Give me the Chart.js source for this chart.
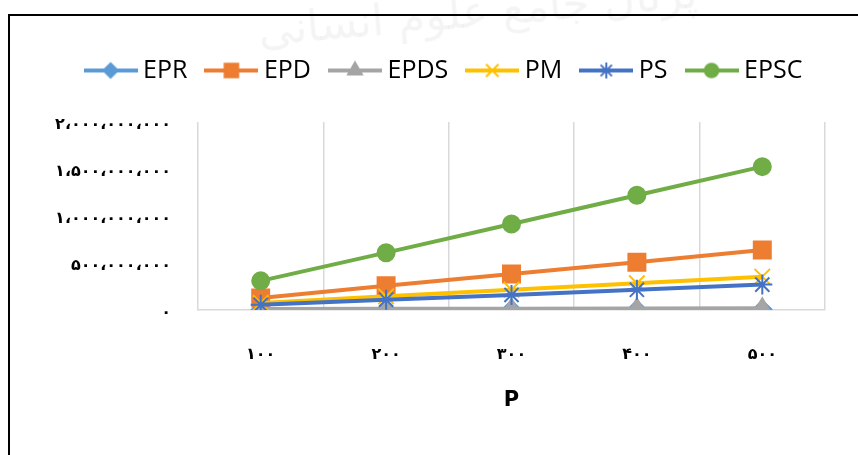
<!DOCTYPE html>
<html>
<head>
<meta charset="utf-8">
<script src="https://cdn.jsdelivr.net/npm/chart.js@4.4.0/dist/chart.umd.min.js"></script>
<style>
    html, body { margin: 0; padding: 0; background: #fff; overflow: hidden; }
    #frame {
        position: absolute; left: 8px; top: 14px; width: 900px; height: 500px;
        border-left: 2px solid #000; border-top: 2px solid #000;
    }
    #chart { position: absolute; left: 0; top: 0; }
    #wm {
        position: absolute; left: 200px; top: -12px; width: 500px; height: 100px;
        font: 44px "DejaVu Sans"; color: rgba(0, 0, 0, 0.045);
        transform: rotate(-5deg); white-space: nowrap; direction: rtl;
    }
</style>
</head>
<body>
<div id="frame"></div>
<canvas id="chart" width="858" height="455"></canvas>
<div id="wm">پرتال جامع علوم انسانی</div>
<script>
const categories = ['۱۰۰', '۲۰۰', '۳۰۰', '۴۰۰', '۵۰۰'];
const seriesNames = ['EPR', 'EPD', 'EPDS', 'PM', 'PS', 'EPSC'];

const eprValues  = [3000000, 4000000, 5000000, 6000000, 7000000];
const epdValues  = [128000000, 258000000, 383000000, 508000000, 638000000];
const epdsValues = [10000000, 12000000, 14000000, 16000000, 18000000];
const pmValues   = [75000000, 145000000, 215000000, 285000000, 355000000];
const psValues   = [55000000, 110000000, 160000000, 215000000, 270000000];
const epscValues = [310000000, 610000000, 915000000, 1220000000, 1525000000];

const yTickValues = [0, 500000000, 1000000000, 1500000000, 2000000000];
const yTickLabels = ['۰', '۵۰۰،۰۰۰،۰۰۰', '۱،۰۰۰،۰۰۰،۰۰۰', '۱،۵۰۰،۰۰۰،۰۰۰', '۲،۰۰۰،۰۰۰،۰۰۰'];
const xTitle = 'P';

// look of each series, same order as seriesNames
const seriesColors = ['#5B9BD5', '#ED7D31', '#A5A5A5', '#FFC000', '#4472C4', '#70AD47'];
const seriesMarkers = ['rectRot', 'rect', 'triangle', 'crossRot', 'star', 'circle'];
const markerRadius = [9, 12, 10, 11, 10, 8.5];
const seriesValues = [eprValues, epdValues, epdsValues, pmValues, psValues, epscValues];

const tickFont = {family: 'DejaVu Sans', size: 16, weight: 'bold'};

function legendIcon(color, style, radius) {
    const c = document.createElement('canvas');
    c.width = 54;
    c.height = 24;
    const g = c.getContext('2d');
    g.strokeStyle = color;
    g.lineWidth = 4;
    g.beginPath();
    g.moveTo(0, 12);
    g.lineTo(54, 12);
    g.stroke();
    g.fillStyle = color;
    g.lineWidth = 2;
    Chart.helpers.drawPoint(g, {pointStyle: style, radius: radius, borderWidth: 2, rotation: 0}, 27, 12);
    return c;
}

const datasets = seriesNames.map((name, i) => ({
    label: name,
    data: seriesValues[i],
    borderColor: seriesColors[i],
    backgroundColor: seriesColors[i],
    borderWidth: 4,
    pointStyle: seriesMarkers[i],
    pointRadius: markerRadius[i],
    pointBackgroundColor: seriesColors[i],
    pointBorderColor: seriesColors[i],
    pointBorderWidth: 2,
    tension: 0,
    order: seriesNames.length - i, // later series drawn on top
}));

// extra room under the legend
const legendGap = {
    id: 'legendGap',
    beforeInit(chart) {
        const fit = chart.legend.fit;
        chart.legend.fit = function () {
            fit.call(this);
            this.height += 29;
        };
    }
};

const chart = new Chart(document.getElementById('chart'), {
    type: 'line',
    data: {
        labels: categories,
        datasets: datasets
    },
    plugins: [legendGap],
    options: {
        responsive: false,
        animation: false,
        layout: {
            padding: {left: 35, right: 0, top: 34, bottom: 0}
        },
        plugins: {
            tooltip: {enabled: false},
            legend: {
                position: 'top',
                labels: {
                    usePointStyle: true,
                    pointStyleWidth: 40,
                    padding: 24,
                    color: '#222',
                    font: {family: 'Open Sans', size: 25},
                    generateLabels: (c) => c.data.datasets.map((ds, i) => ({
                        text: ds.label,
                        pointStyle: legendIcon(seriesColors[i], seriesMarkers[i], markerRadius[i] * 0.8),
                        fillStyle: seriesColors[i],
                        strokeStyle: seriesColors[i],
                        lineWidth: 0,
                        hidden: false,
                        datasetIndex: i
                    }))
                }
            }
        },
        scales: {
            x: {
                offset: true,
                grid: {offset: true, color: '#d9d9d9', lineWidth: 1.5, drawTicks: false},
                border: {color: '#d9d9d9', width: 1.5},
                ticks: {color: '#000', padding: 35, font: tickFont},
                title: {
                    display: true,
                    text: xTitle,
                    color: '#000',
                    font: {family: 'DejaVu Sans', size: 21, weight: 'bold'},
                    padding: {top: 42, bottom: 42}
                },
                afterFit: (scale) => { scale.height = 145; }
            },
            y: {
                min: 0,
                max: 2000000000,
                grid: {display: false, drawTicks: false},
                border: {display: false},
                ticks: {
                    stepSize: 500000000,
                    padding: 27,
                    labelOffset: 3,
                    color: '#000',
                    font: tickFont,
                    callback: (v) => yTickLabels[yTickValues.indexOf(v)]
                },
                afterFit: (scale) => { scale.width = 163; }
            },
            // empty right-hand strip, keeps the plot clear of the frame edge
            yRight: {
                position: 'right',
                display: true,
                grid: {display: false, drawTicks: false},
                border: {display: false},
                ticks: {display: false},
                afterFit: (scale) => { scale.width = 33; }
            }
        }
    }
});
</script>
</body>
</html>
